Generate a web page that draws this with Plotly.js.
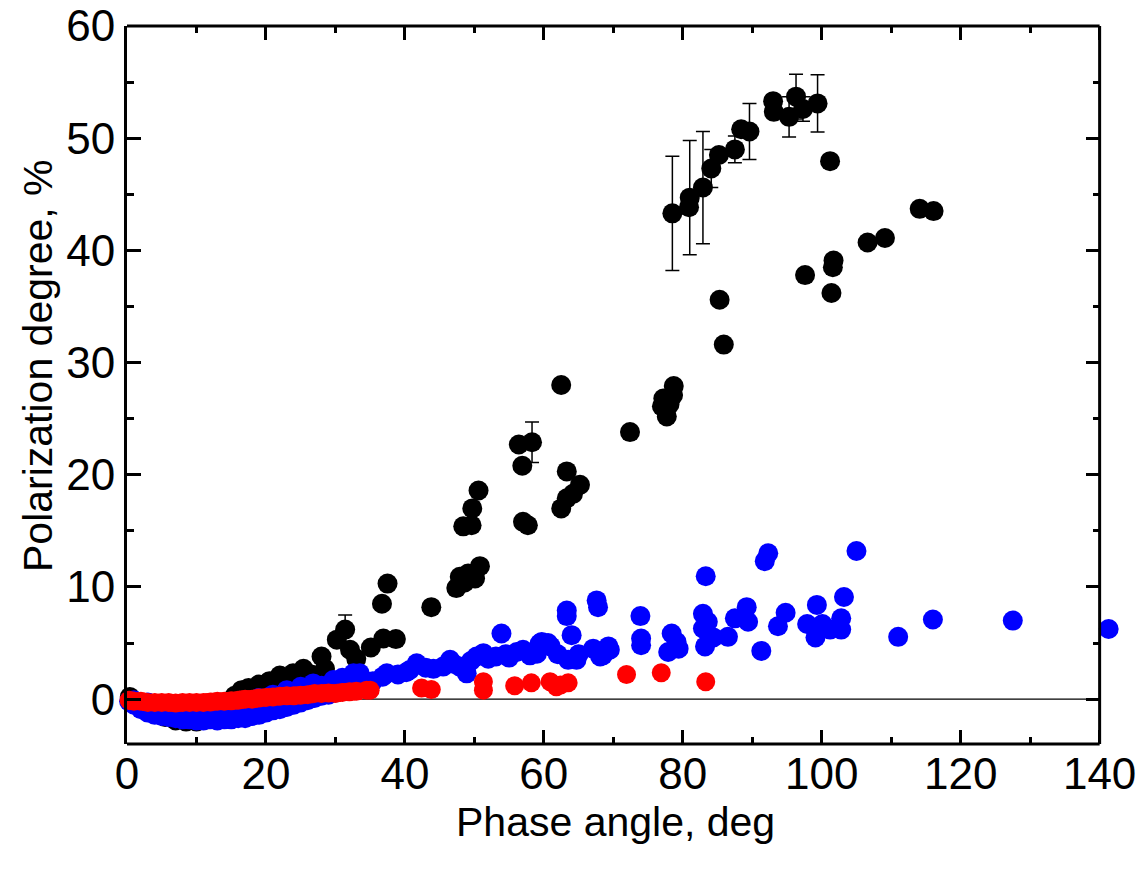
<!DOCTYPE html>
<html>
<head>
<meta charset="utf-8">
<script src="https://cdn.plot.ly/plotly-3.0.1.min.js"></script>
<style>html,body{margin:0;padding:0;background:#fff;}#chart{width:1140px;height:870px;}</style>
</head>
<body>
<div id="chart"></div>
<script>
// Black series: phase angle (deg), polarization (%), error
var blackX = [0.4,1,2.5,4,5.5,7,8.5,10,11.5,13,14.5,15.5,16.5,17.5,19,20.5,22,23.9,25.4,26.5,28.0,28.5,30.2,31.4,32.1,33.0,35.1,36.7,36.9,37.5,38.7,43.8,47.4,47.9,48.6,49.1,50.1,50.8,48.4,49.6,49.7,50.6,56.4,58.3,56.9,57.0,57.7,62.5,63.3,65.2,62.5,63.3,64.2,72.4,77.0,77.2,77.7,78.1,78.6,78.7,78.5,80.9,81.0,82.9,84.1,85.2,85.3,85.9,87.5,88.4,89.6,93.0,93.1,95.3,96.3,97.3,97.6,99.4,101.2,101.4,101.6,101.7,106.6,109.1,114.1,116.1];
var blackY = [0.2,-0.3,-0.8,-1.3,-1.6,-1.9,-2.0,-2.0,-1.8,-1.3,-0.7,0.3,0.8,1.0,1.3,1.6,2.1,2.3,2.7,2.2,3.8,2.7,5.3,6.2,4.4,3.6,4.6,8.5,5.4,10.3,5.35,8.2,9.9,10.9,10.4,11.2,10.75,11.85,15.4,15.5,17.0,18.6,22.7,22.9,20.8,15.8,15.5,28.0,20.3,19.1,17.0,17.9,18.3,23.8,26.1,26.8,25.2,26.3,27.1,27.9,43.3,43.85,44.7,45.6,47.3,48.5,35.6,31.6,49.0,50.8,50.6,53.3,52.35,51.9,53.7,52.6,37.8,53.1,47.95,36.2,38.5,39.1,40.7,41.1,43.7,43.5];
var blackErr = [0,0,0,0,0,0,0,0,0,0,0,0,0,0,0,0,0,0,0,0,0,0,0,1.3,0,0,0,0,0,0,0,0,0,0,0,0,0,0,0,0,0,0,0,1.8,0,0,0,0,0,0,0,0,0,0,0,0,0,0,0,0,5.1,0,5.1,5.0,1.7,0,0,0,1.2,0,2.5,0,0,1.8,2.0,1.1,0,2.55,0,0,0,0,0,0,0,0];

// Blue series
var blueX = [0.3,1,2,3,4,5,6,7,8,9,10,11,12,13,14,15,16,17,18,19,20,21,22,23,24,25,26,27,28,29,30,31,32,33,34,35,
  1,3,5,7,9,11,13,15,17,19,21,23,25,26.8,28,29.7,31,32.6,33.5,35.4,36.8,37.4,39,40.2,40.7,41.7,43,44.1,45.5,46.5,47,47.9,48.9,49.5,50.3,51.3,52,53.1,53.9,54.5,55,56.1,57,58,59,59.4,59.7,60.6,61,62,63.3,63.3,63.5,64.0,64.7,65,67.1,67.6,67.8,68.1,68.5,69.3,69.5,73.9,74.0,74.0,77.9,78.4,79.1,79.4,82.9,82.9,83.3,83.6,83.2,84.4,86.5,87.5,89.2,89.4,91.3,91.8,92.3,93.7,94.8,97.9,99.1,99.3,100.1,101.2,102.8,102.8,103.2,105.0,111.0,116.0,127.5,141.3];
var blueY = [-0.2,-0.5,-0.9,-1.2,-1.4,-1.5,-1.6,-1.7,-1.8,-1.8,-1.9,-1.9,-1.8,-1.9,-1.8,-1.8,-1.7,-1.7,-1.5,-1.4,-1.2,-1.0,-0.9,-0.7,-0.5,-0.3,-0.1,0.1,0.3,0.4,0.6,0.7,0.8,1.0,1.2,1.4,
  -0.1,-0.3,-0.5,-0.6,-0.6,-0.5,-0.5,-0.4,-0.2,0.1,0.4,0.8,1.1,1.4,1.2,1.7,1.9,2.3,2.3,1.6,2.0,2.3,2.2,2.4,2.6,3.2,2.8,2.7,2.9,3.5,3.15,2.9,2.3,3.4,3.8,4.1,3.6,3.8,5.85,4.0,3.7,4.2,4.4,3.9,4.05,4.95,5.1,5.0,4.7,4.0,7.9,7.4,3.5,5.7,3.5,4.0,4.5,8.8,8.2,3.8,3.9,4.7,4.4,7.4,5.4,4.8,4.2,5.85,5.1,4.5,7.6,6.3,10.95,6.9,4.7,5.5,5.55,7.2,8.2,6.9,4.3,12.3,13.0,6.5,7.7,6.7,5.5,8.4,6.7,6.2,7.2,6.2,9.1,13.2,5.55,7.1,7.0,6.25];

// Red series
var redX = [0.3,1,2,3,4,5,6,7,8,9,10,11,12,13,14,15,16,17,18,19,20,21,22,23,24,25,26,27,28,29,30,31,32,33,34.5,35,42.4,43.8,51.3,51.3,55.8,58.2,60.9,61.8,62.4,63.5,71.9,76.9,83.3];
var redY = [-0.1,-0.2,-0.2,-0.3,-0.3,-0.3,-0.3,-0.35,-0.3,-0.3,-0.3,-0.3,-0.25,-0.2,-0.2,-0.15,-0.1,0,0,0.1,0.15,0.2,0.25,0.3,0.3,0.35,0.4,0.5,0.5,0.55,0.5,0.6,0.65,0.7,0.8,0.8,1.0,0.85,1.55,0.8,1.2,1.45,1.55,1.1,1.25,1.45,2.2,2.35,1.55];
var redErr = [0.7,0.7,0.7,0.7,0.7,0.7,0.7,0.7,0.7,0.7,0.7,0.7,0.7,0.7,0.7,0.7,0.7,0.7,0.7,0.7,0.7,0.7,0.7,0.7,0.7,0.7,0.7,0.7,0.7,0.7,0.7,0.7,0.7,0.7,0.6,0.6,0.3,0.3,0.3,0.3,0.3,0.3,0.3,0.3,0.3,0.3,0.3,0.3,0.3];

var xTicks = [0,20,40,60,80,100,120,140];
var xMinor = [10,30,50,70,90,110,130];
var yTicks = [0,10,20,30,40,50,60];
var yMinor = [5,15,25,35,45,55];
var xTitle = 'Phase angle, deg';
var yTitle = 'Polarization degree, %';

var xFrameEnd = 140;            // right edge of the drawn frame
var xRange = [0, 142.5];        // a bit wider so the point past 140 stays visible
var yRange = [-4, 60];

var traces = [
  {x: blackX, y: blackY, type:'scatter', mode:'markers', name:'black', cliponaxis:false,
   marker:{color:'#000000', size:20, line:{width:0}},
   error_y:{type:'data', array: blackErr, visible:true, color:'#000000', thickness:1.5, width:7}},
  {x: blueX, y: blueY, type:'scatter', mode:'markers', name:'blue', cliponaxis:false,
   marker:{color:'#0000ff', size:20, line:{width:0}}},
  {x: redX, y: redY, type:'scatter', mode:'markers', name:'red', cliponaxis:false,
   marker:{color:'#ff0000', size:19, line:{width:0}},
   error_y:{type:'data', array: redErr, visible:true, color:'#ff0000', thickness:1.5, width:6}},
  // empty helper traces so the top and right tick axes get their own subplots
  {x: [], y: [], type:'scatter', mode:'markers', yaxis:'y2', showlegend:false, hoverinfo:'skip'},
  {x: [], y: [], type:'scatter', mode:'markers', xaxis:'x2', showlegend:false, hoverinfo:'skip'}
];

var fontFam = 'Arial, "Liberation Sans", sans-serif';
var tickFont = {size:44, family:fontFam, color:'#000'};
var titleFont = {size:41, family:fontFam, color:'#000'};
var L = 127, T = 26, B = 126, plotW = 990, plotH = 870 - T - B;
var frameFrac = xFrameEnd / (xRange[1] - xRange[0]);
function px2paperX(p){ return (p - L) / plotW; }
function px2paperY(p){ return (870 - B - p) / plotH; }

var minorStyle = {ticks:'inside', ticklen:7, tickwidth:3, tickcolor:'#000', showgrid:false};
function withMinor(vals){ var m = {}; for (var k in minorStyle) m[k] = minorStyle[k]; m.tickvals = vals; return m; }

var layout = {
  width:1140, height:870,
  margin:{l:L, r:1140-L-plotW, t:T, b:B},
  paper_bgcolor:'#ffffff', plot_bgcolor:'#ffffff',
  showlegend:false,
  font:{family:fontFam, color:'#000000'},
  xaxis:{
    range:xRange, tickvals:xTicks, ticktext:xTicks.map(String),
    ticks:'inside', ticklen:14, tickwidth:3, tickcolor:'#000',
    showline:false, mirror:false, showgrid:false, zeroline:false,
    minor:withMinor(xMinor),
    tickfont:tickFont
  },
  xaxis2:{
    range:xRange, tickvals:xTicks, overlaying:'x', side:'top', anchor:'y',
    ticks:'inside', ticklen:14, tickwidth:3, tickcolor:'#000',
    showline:false, showgrid:false, zeroline:false, showticklabels:false,
    minor:withMinor(xMinor)
  },
  yaxis:{
    range:yRange, tickvals:yTicks, ticktext:yTicks.map(String),
    ticks:'inside', ticklen:14, tickwidth:3, tickcolor:'#000',
    showline:true, linecolor:'#000', linewidth:3, mirror:false,
    showgrid:false, zeroline:false,
    minor:withMinor(yMinor),
    tickfont:tickFont
  },
  yaxis2:{
    range:yRange, tickvals:yTicks, overlaying:'y', side:'right', anchor:'free', position:frameFrac,
    ticks:'inside', ticklen:14, tickwidth:3, tickcolor:'#000',
    showline:false, showgrid:false, zeroline:false, showticklabels:false,
    minor:withMinor(yMinor)
  },
  shapes: [
    // frame: bottom, top, right
    {type:'line', xref:'x', yref:'paper', x0:xRange[0], x1:xFrameEnd, y0:0, y1:0, line:{color:'#000', width:3}},
    {type:'line', xref:'x', yref:'paper', x0:xRange[0], x1:xFrameEnd, y0:1, y1:1, line:{color:'#000', width:3}},
    {type:'line', xref:'x', yref:'paper', x0:xFrameEnd, x1:xFrameEnd, y0:0, y1:1, line:{color:'#000', width:3}},
    // zero reference line
    {type:'line', xref:'x', yref:'y', x0:xRange[0], x1:xFrameEnd, y0:0, y1:0, layer:'below', line:{color:'#000', width:1.2}}
  ],
  annotations: [
    {text:xTitle, xref:'paper', yref:'paper', x:px2paperX(615), y:px2paperY(822), xanchor:'center', yanchor:'middle', showarrow:false, font:titleFont},
    {text:yTitle, xref:'paper', yref:'paper', x:px2paperX(38), y:px2paperY(366), xanchor:'center', yanchor:'middle', textangle:-90, showarrow:false, font:titleFont}
  ]
};

Plotly.newPlot('chart', traces, layout, {displayModeBar:false, staticPlot:true});
</script>
</body>
</html>
